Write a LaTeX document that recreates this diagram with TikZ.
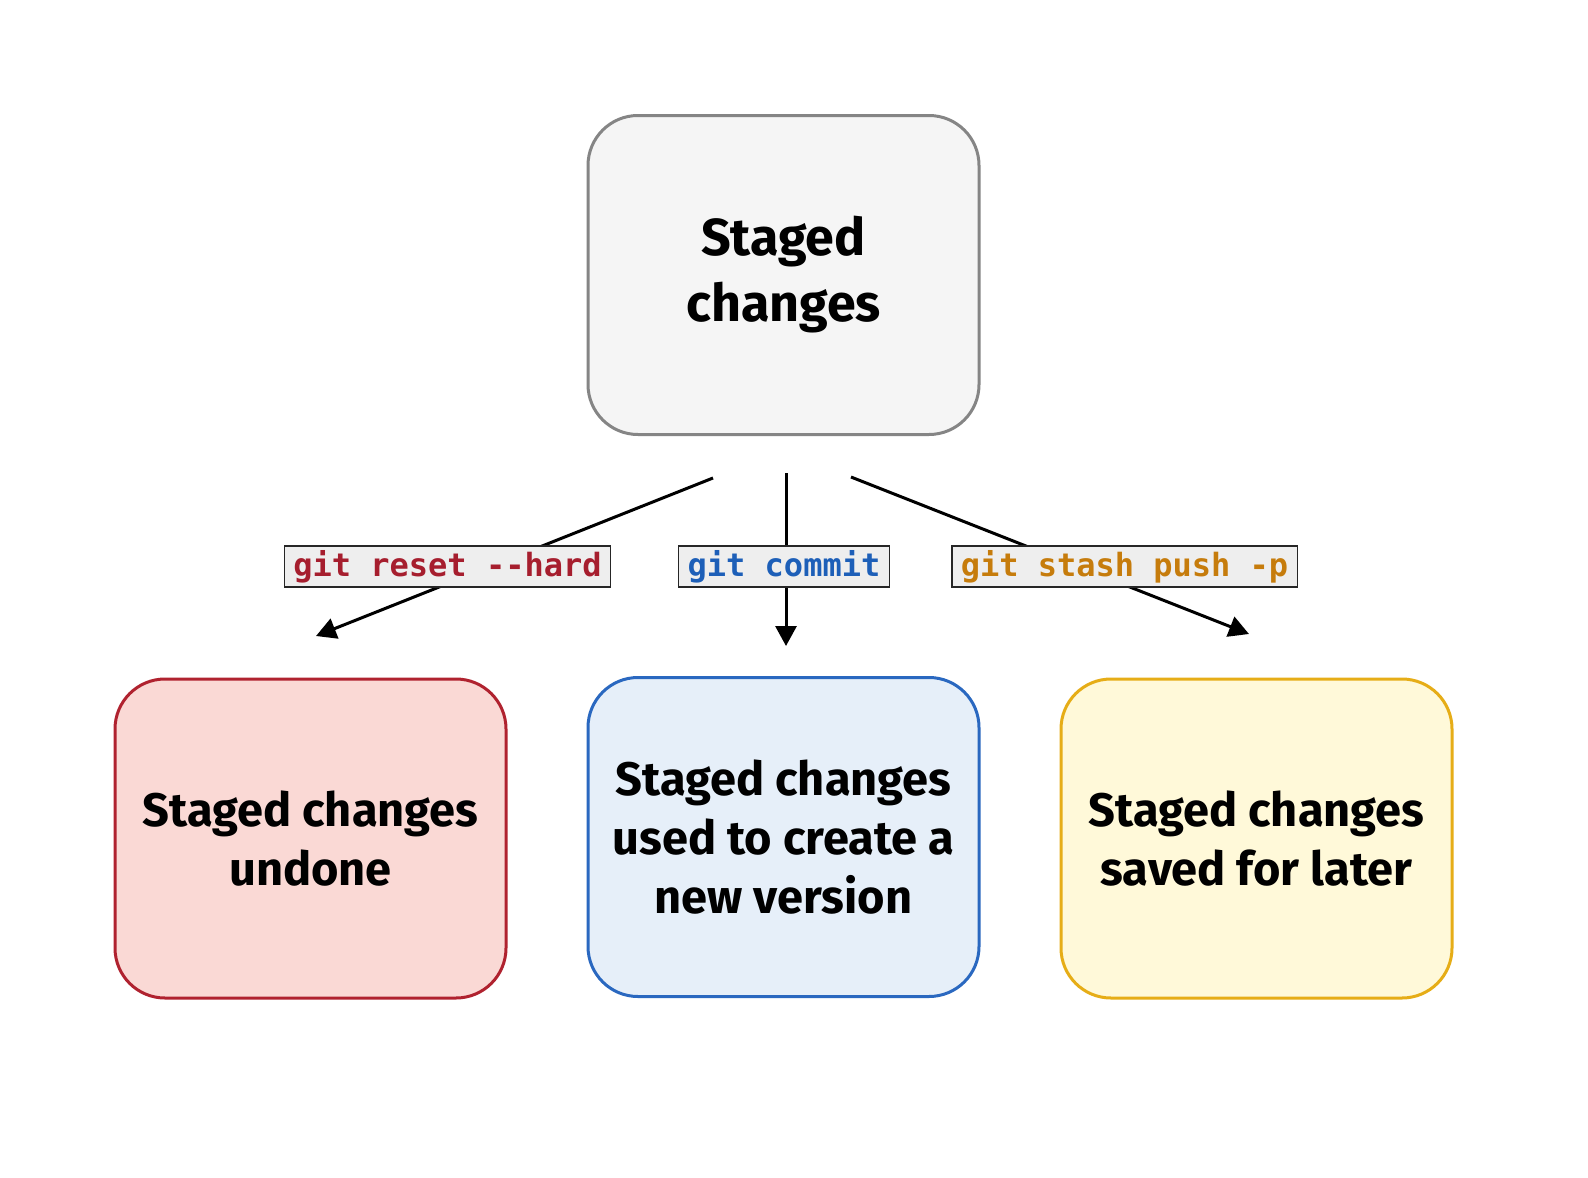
\documentclass[tikz,border=0pt]{standalone}
\usepackage{fontspec}
\setmainfont{Fira Sans}
\setmonofont{DejaVu Sans Mono}
\usetikzlibrary{arrows.meta}
\definecolor{topfill}{HTML}{F5F5F5}
\definecolor{topdraw}{HTML}{858585}
\definecolor{redfill}{HTML}{FAD9D5}
\definecolor{reddraw}{HTML}{B0222F}
\definecolor{bluefill}{HTML}{E6EFF9}
\definecolor{bluedraw}{HTML}{2A68C0}
\definecolor{yelfill}{HTML}{FFF9D9}
\definecolor{yeldraw}{HTML}{E6AD17}
\definecolor{redtxt}{HTML}{A61E2E}
\definecolor{bluetxt}{HTML}{1D5FB8}
\definecolor{orgtxt}{HTML}{C67C0C}
\definecolor{lblfill}{HTML}{EEEEEE}
\tikzset{
  statebox/.style={draw, line width=3pt, rounded corners=50pt, minimum width=391pt, minimum height=319pt, align=center, font=\fontsize{47}{59}\selectfont\bfseries, text=black},
  cmdlbl/.style={draw=black!85, fill=lblfill, line width=1.5pt, minimum height=41pt, inner xsep=9pt, inner ysep=0pt, font=\fontsize{32}{32}\selectfont\ttfamily\bfseries},
  conn/.style={line width=3pt, -{Triangle[length=20pt,width=21pt]}}
}
\begin{document}
\begin{tikzpicture}[x=1pt,y=-1pt]
\fill[white] (0,0) rectangle (1588,1178);
\useasboundingbox (0,0) rectangle (1588,1178);
\node[statebox, fill=topfill, draw=topdraw, font=\fontsize{52}{66}\selectfont\bfseries] (top) at (783.5,275) {Staged\\changes};
\node[statebox, fill=redfill, draw=reddraw] (red) at (310.5,838.5) {Staged changes\\undone};
\node[statebox, fill=bluefill, draw=bluedraw] (blue) at (783.5,837) {Staged changes\\used to create a\\new version};
\node[statebox, fill=yelfill, draw=yeldraw] (yel) at (1256.5,838.5) {Staged changes\\saved for later};
\coordinate (s1) at (713,478);
\coordinate (e1) at (316,636);
\coordinate (s2) at (786,473);
\coordinate (e2) at (786,646);
\coordinate (s3) at (851,477);
\coordinate (e3) at (1249,634);
\draw[conn] (s1) -- (e1);
\draw[conn] (s2) -- (e2);
\draw[conn] (s3) -- (e3);
\node[cmdlbl, text=redtxt] (l1) at (447.5,566.5) {git reset --hard};
\node[cmdlbl, text=bluetxt] (l2) at (784,566.5) {git commit};
\node[cmdlbl, text=orgtxt] (l3) at (1124.5,566.5) {git stash push -p};
\end{tikzpicture}
\end{document}
